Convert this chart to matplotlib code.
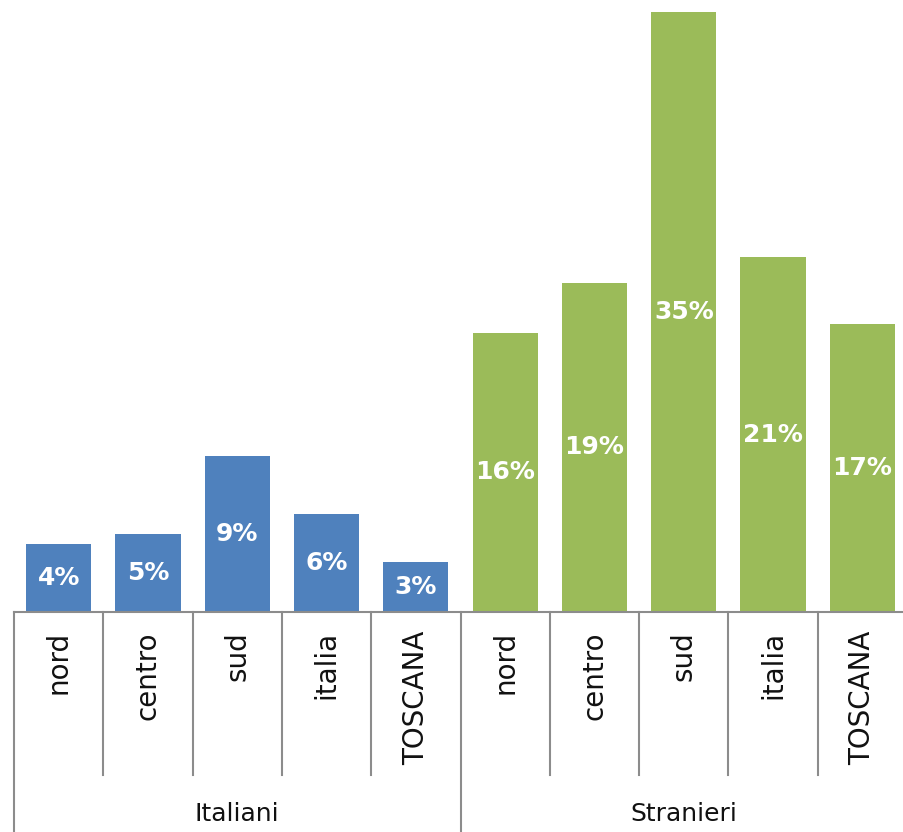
import matplotlib
matplotlib.use('Agg')
import matplotlib.pyplot as plt
import numpy as np

# data (percent)
groups = ['Italiani', 'Stranieri']
categories = ['nord', 'centro', 'sud', 'italia', 'TOSCANA']
italiani = [3.95, 4.55, 9.1, 5.7, 2.9]
stranieri = [16.3, 19.2, 35.0, 20.7, 16.8]
colors = ['#4f81bd', '#9bbb59']

W, H = 904, 832
fig = plt.figure(figsize=(W / 100, H / 100), dpi=100)
# baseline at y=612 px, top of the tallest bar at y=12 px
ax = fig.add_axes([14 / W, (H - 612) / H, 893 / W, 600 / H])

values = italiani + stranieri
x = np.arange(len(values))
bar_colors = [colors[0]] * len(italiani) + [colors[1]] * len(stranieri)
ax.bar(x, values, width=0.73, color=bar_colors, zorder=2)

for xi, v in zip(x, values):
    ax.text(xi, v / 2, f'{v:.0f}%', ha='center', va='center', color='white',
            fontsize=18, fontweight='bold', family='DejaVu Sans', zorder=3)

ax.set_xlim(-0.5, len(values) - 0.5)
ax.set_ylim(0, 35)
for s in ['top', 'left', 'right']:
    ax.spines[s].set_visible(False)
ax.spines['bottom'].set_color('#8c8c8c')
ax.spines['bottom'].set_linewidth(1.5)
ax.set_xticks([])
ax.set_yticks([])

tr = ax.get_xaxis_transform()
line_c = '#8c8c8c'
tick_bot = -(775 - 612) / 600
group_bot = -(840 - 612) / 600
n = len(categories)
for k in range(len(values) + 1):
    xb = k - 0.5
    bot = group_bot if k % n == 0 else tick_bot
    ax.plot([xb, xb], [0, bot], color=line_c, lw=1.5, transform=tr, clip_on=False)

all_labels = categories + categories
for xi, lab in zip(x, all_labels):
    ax.text(xi, -(631 - 612) / 600, lab, rotation=90, ha='center', va='top',
            fontsize=20, transform=tr, color='#111111')

for g, name in enumerate(groups):
    xc = g * n + (n - 1) / 2
    ax.text(xc, -(814 - 612) / 600, name, ha='center', va='center',
            fontsize=18, transform=tr, color='#111111')

fig.savefig('out.png', dpi=100)
